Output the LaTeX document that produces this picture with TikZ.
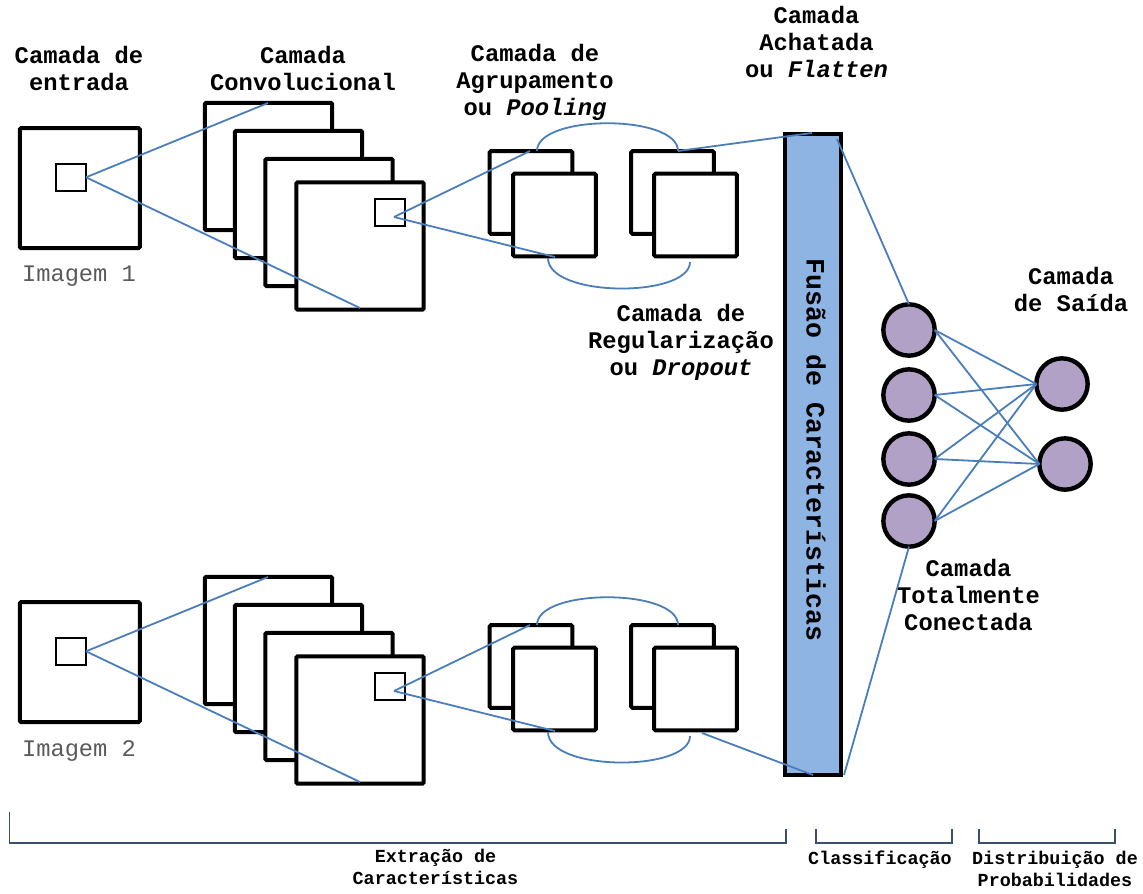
\documentclass[tikz,border=0pt]{standalone}
\usepackage{fontspec}
\setmainfont{Liberation Mono}
\usetikzlibrary{calc}
\definecolor{lnblue}{HTML}{4A7EBB}
\definecolor{barfill}{HTML}{8EB4E3}
\definecolor{nfill}{HTML}{B2A1C7}
\definecolor{imggray}{HTML}{5A5A5A}
\definecolor{brkcol}{HTML}{37506E}
\begin{document}
\begin{tikzpicture}[x=0.75pt,y=-0.75pt,
  box/.style={draw, line width=3pt, fill=white, inner sep=0pt, outer sep=0pt, rounded corners=1pt},
  insq/.style={box, minimum size=90pt},
  convsq/.style={box, minimum size=95.6pt},
  poolsq/.style={box, minimum size=62pt},
  kern/.style={draw, line width=1.4pt, fill=white, inner sep=0pt, outer sep=0pt, minimum width=22.5pt, minimum height=20.6pt},
  neuron/.style={circle, draw, line width=3.3pt, fill=nfill, inner sep=0pt, outer sep=0pt, minimum size=38.5pt},
  conn/.style={draw=lnblue, line width=1.35pt},
  brk/.style={draw=brkcol, line width=1.3pt},
  title/.style={font=\fontsize{17.85}{20.25}\selectfont\bfseries, align=center, anchor=base, inner sep=0pt},
  lbl/.style={font=\fontsize{13.8}{16.5}\selectfont\bfseries, align=center, anchor=base, inner sep=0pt},
  imglbl/.style={font=\fontsize{17.8}{20}\selectfont, text=imggray, anchor=base, inner sep=0pt}]
\useasboundingbox (0,0) rectangle (1143,893);

% ---------- titles (anchor = baseline of the last line) ----------
\node[title] (t-in) at (79,90) {Camada de\\entrada};
\node[title] (t-conv) at (303,90) {Camada\\Convolucional};
\node[title] (t-pool) at (535,115) {Camada de\\Agrupamento\\ou \textit{Pooling}};
\node[title] (t-flat) at (816.5,77.3) {Camada\\Achatada\\ou \textit{Flatten}};
\node[title] (t-drop) at (681,375.7) {Camada de\\Regularização\\ou \textit{Dropout}};
\node[title] (t-out) at (1071,311) {Camada\\de Saída};
\node[title] (t-fc) at (968.5,630.7) {Camada\\Totalmente\\Conectada};

% ---------- upper branch ----------
\node[insq] (in1) at (79.75,188) {};
\node[kern] (k1) at (71,177.3) {};
\node[imglbl] (img1) at (79,281.7) {Imagem 1};

\node[convsq] (c1a) at (268.5,166.5) {};
\node[convsq] (c1b) at (298.5,194.5) {};
\node[convsq] (c1c) at (329,222.5) {};
\node[convsq] (c1d) at (360,246) {};
\node[kern] (kc1) at (390,212.5) {};

\node[poolsq] (p1a) at (531,192.5) {};
\node[poolsq] (p1b) at (554.5,215) {};
\node[poolsq] (p2a) at (672.5,192.5) {};
\node[poolsq] (p2b) at (695.5,215) {};

% ---------- lower branch ----------
\node[insq] (in2) at (79.75,662) {};
\node[kern] (k2) at (71,651.3) {};
\node[imglbl] (img2) at (79,756.7) {Imagem 2};

\node[convsq] (c2a) at (268.5,640.5) {};
\node[convsq] (c2b) at (298.5,668.5) {};
\node[convsq] (c2c) at (329,696.5) {};
\node[convsq] (c2d) at (360,720) {};
\node[kern] (kc2) at (390,686.5) {};

\node[poolsq] (q1a) at (531,666.5) {};
\node[poolsq] (q1b) at (554.5,689) {};
\node[poolsq] (q2a) at (672.5,666.5) {};
\node[poolsq] (q2b) at (695.5,689) {};

% ---------- flatten bar ----------
\node[draw, line width=3pt, fill=barfill, inner sep=0pt, outer sep=0pt,
      minimum width=42pt, minimum height=480.75pt] (bar) at (813,454.5) {};
\node[rotate=-90, font=\fontsize{19.9}{24}\selectfont\bfseries, inner sep=0pt] (t-bar) at (816,450) {Fusão de Características};

% ---------- neurons ----------
\node[neuron] (n1) at (909,330) {};
\node[neuron] (n2) at (909,395) {};
\node[neuron] (n3) at (909,459) {};
\node[neuron] (n4) at (909,521) {};
\node[neuron] (o1) at (1062,384) {};
\node[neuron] (o2) at (1065,464) {};

% ---------- connector end points ----------
\coordinate (c1a-t) at (268,103);
\coordinate (c1d-b) at (360,308);
\coordinate (kc1-p) at (394,217);
\coordinate (p1a-t) at (530,151);
\coordinate (p1b-b) at (555,257);
\coordinate (p2a-t) at (678,151);
\coordinate (bar-t) at (812,133);
\coordinate (bar-tr) at (837,139);
\coordinate (arcA1) at (537,151);
\coordinate (arcB1) at (548,258);
\coordinate (arcB2) at (690,262);

\coordinate (c2a-t) at (268,577);
\coordinate (c2d-b) at (360,782);
\coordinate (kc2-p) at (394,691);
\coordinate (q1a-t) at (530,625);
\coordinate (q1b-b) at (555,731);
\coordinate (q2b-b) at (702,733);
\coordinate (bar-b) at (813,775);
\coordinate (bar-br) at (844,775);
\coordinate (arcC1) at (537,625);
\coordinate (arcC2) at (678,625);
\coordinate (arcD1) at (548,732);
\coordinate (arcD2) at (690,736);

% ---------- connectors (upper) ----------
\draw[conn] (k1.east) -- (c1a-t);
\draw[conn] (k1.east) -- (c1d-b);
\draw[conn] (kc1-p) -- (p1a-t);
\draw[conn] (kc1-p) -- (p1b-b);
\draw[conn] (arcA1) .. controls (537,114) and (678,114) .. (p2a-t);
\draw[conn] (arcB1) .. controls (548,298) and (690,298) .. (arcB2);
\draw[conn] (p2a-t) -- (bar-t);
\draw[conn] (bar-tr) -- (n1.north);

% ---------- connectors (lower) ----------
\draw[conn] (k2.east) -- (c2a-t);
\draw[conn] (k2.east) -- (c2d-b);
\draw[conn] (kc2-p) -- (q1a-t);
\draw[conn] (kc2-p) -- (q1b-b);
\draw[conn] (arcC1) .. controls (537,588) and (678,588) .. (arcC2);
\draw[conn] (arcD1) .. controls (548,772) and (690,772) .. (arcD2);
\draw[conn] (q2b-b) -- (bar-b);
\draw[conn] (bar-br) -- (n4.south);

% ---------- dense layer ----------
\foreach \i in {1,2,3,4}{
  \foreach \j in {1,2}{
    \draw[conn] (n\i.east) -- (o\j.west);
  }
}

% ---------- brackets ----------
\draw[brk] (9.5,812) -- (9.5,843) -- (786,843) -- (786,829);
\draw[brk] (816,829) -- (816,843) -- (952,843) -- (952,829);
\draw[brk] (979,829) -- (979,843) -- (1115,843) -- (1115,829);

\node[lbl] (l-ext) at (435.5,884.5) {Extração de\\Características};
\node[lbl] (l-cls) at (880,864) {Classificação};
\node[lbl] (l-dist) at (1055,886) {Distribuição de\\Probabilidades};
\end{tikzpicture}
\end{document}
